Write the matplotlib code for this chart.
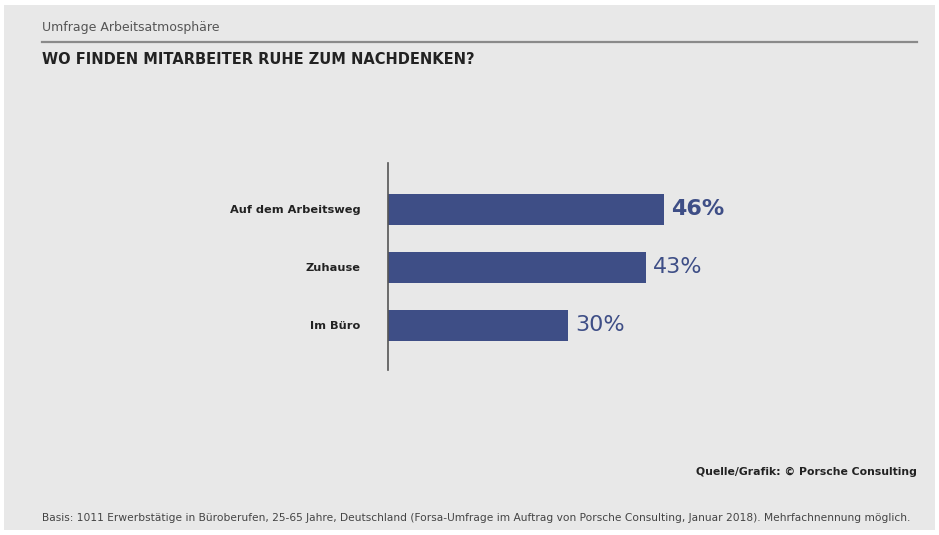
import matplotlib.pyplot as plt
from matplotlib.patches import Rectangle
from matplotlib.lines import Line2D

# Daten
categories = ["Auf dem Arbeitsweg", "Zuhause", "Im Büro"]
values = [46, 43, 30]
value_labels = ["46%", "43%", "30%"]

W, H = 939, 535
bg = "#e8e8e8"
bar_color = "#3e4e86"

fig = plt.figure(figsize=(W / 100, H / 100), dpi=100)
fig.patch.set_facecolor("white")
fig.patches.append(Rectangle((4 / W, 5 / H), 931 / W, 525 / H, transform=fig.transFigure,
                             facecolor=bg, edgecolor="none", zorder=-10))

# Kopfzeile
fig.text(42 / W, 1 - 28 / H, "Umfrage Arbeitsatmosphäre", fontsize=9, color="#555555",
         va="center", ha="left")
fig.lines.append(Line2D([42 / W, 917 / W], [1 - 42 / H, 1 - 42 / H], transform=fig.transFigure,
                        color="#8a8a8a", lw=1.6))
fig.text(42 / W, 1 - 60 / H, "WO FINDEN MITARBEITER RUHE ZUM NACHDENKEN?", fontsize=10.5,
         fontweight="bold", color="#222222", va="center", ha="left")

# Balken
ax = fig.add_axes([388 / W, 1 - 370 / H, 480 / W, 207 / H])
ax.set_facecolor("none")
y = range(len(categories))
ax.barh(y, values, height=0.53, color=bar_color)
ax.set_xlim(0, 80)
ax.set_ylim(2.77, -0.80)
for sp in ["top", "right", "bottom"]:
    ax.spines[sp].set_visible(False)
ax.spines["left"].set_color("#555555")
ax.spines["left"].set_linewidth(1.2)
ax.set_xticks([])
ax.set_yticks(list(y))
ax.set_yticklabels(categories, fontsize=8.2, fontweight="bold", color="#222222")
ax.tick_params(axis="y", length=0, pad=20)

for i, (v, lab) in enumerate(zip(values, value_labels)):
    ax.text(v + 1.2, i, lab, va="center", ha="left", fontsize=16, color="#3e4e86",
            fontweight="bold" if i == 0 else "normal")

# Fußzeile
fig.text(917 / W, 1 - 472 / H, "Quelle/Grafik: © Porsche Consulting", fontsize=7.8,
         fontweight="bold", color="#222222", va="center", ha="right")
fig.text(42 / W, 1 - 518 / H,
         "Basis: 1011 Erwerbstätige in Büroberufen, 25-65 Jahre, Deutschland (Forsa-Umfrage im Auftrag "
         "von Porsche Consulting, Januar 2018). Mehrfachnennung möglich.",
         fontsize=7.7, color="#444444", va="center", ha="left")

fig.savefig("out.png", dpi=100, facecolor=fig.get_facecolor())
